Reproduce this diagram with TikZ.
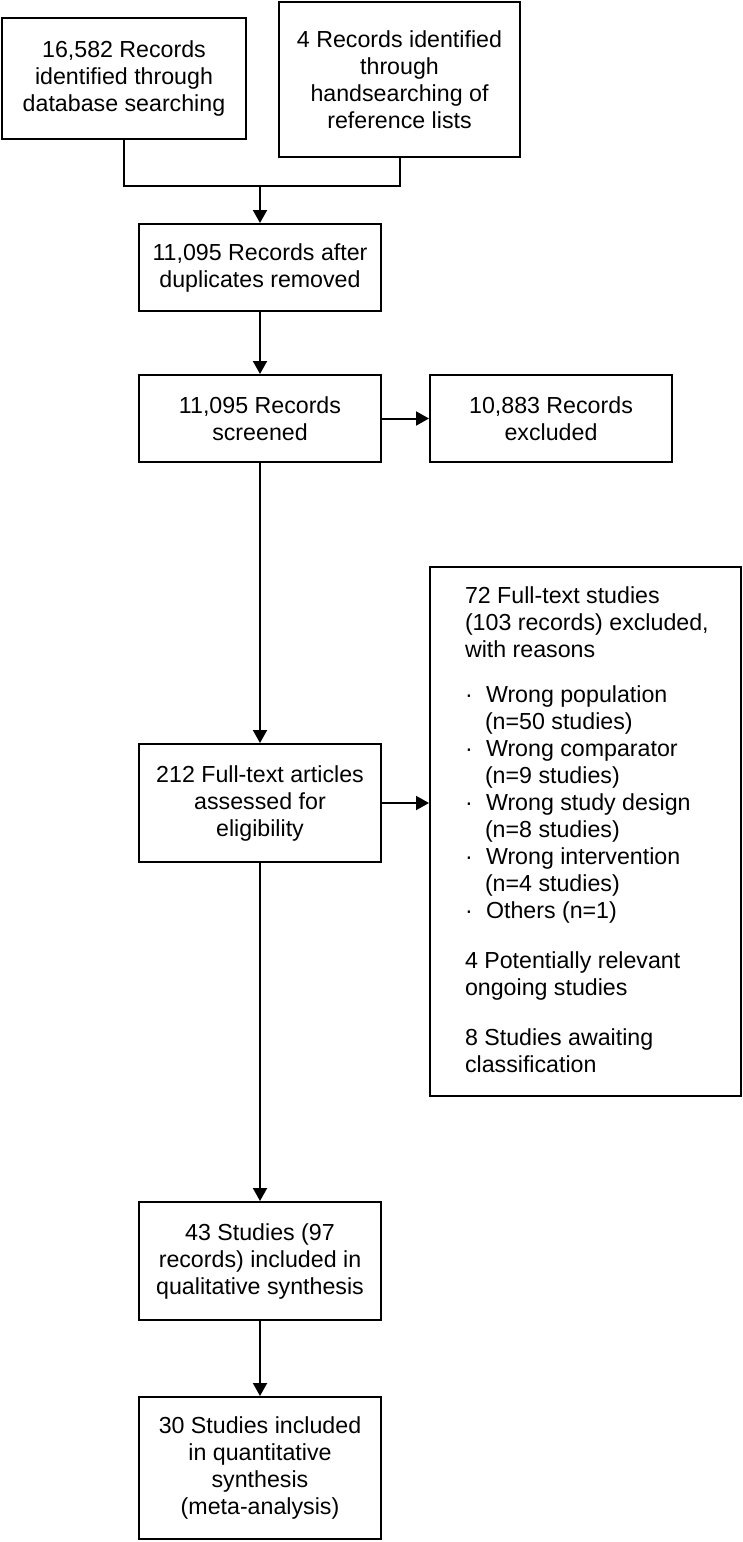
\documentclass[tikz,border=0pt]{standalone}
\usepackage{fontspec}
\setmainfont{Liberation Sans}
\usetikzlibrary{arrows.meta}
\tikzset{
  box/.style={draw=black, line width=1pt, align=center, inner sep=0pt,
    font=\fontsize{11.6pt}{13.5pt}\selectfont},
  conn/.style={draw=black, line width=1pt},
  arr/.style={conn, -{Triangle[length=6.5pt,width=7pt]}}
}
\begin{document}
\begin{tikzpicture}[x=0.5pt,y=-0.5pt]
\useasboundingbox (0,0) rectangle (743,1542);
\node[box, minimum width=122pt, minimum height=60.5pt] (A) at (124,78.5)
  {16,582 Records\\identified through\\database searching};
\node[box, minimum width=120.5pt, minimum height=77.5pt] (B) at (399.5,79.5)
  {4 Records identified\\through\\handsearching of\\reference lists};
\node[box, minimum width=121pt, minimum height=43.5pt] (C) at (260,267.5)
  {11,095 Records after\\duplicates removed};
\node[box, minimum width=121pt, minimum height=43.5pt] (D) at (260,418.5)
  {11,095 Records\\screened};
\node[box, minimum width=121pt, minimum height=43.5pt] (E) at (551,418.5)
  {10,883 Records\\excluded};
\node[box, minimum width=121pt, minimum height=59pt] (F) at (260,803)
  {212 Full-text articles\\assessed for\\eligibility};
\node[box, minimum width=155.5pt, minimum height=264.5pt] (G) at (585.5,831.5) {};
\node[box, align=left, draw=none, anchor=north west] (Gt) at (464,586)
  {72 Full-text studies\\(103 records) excluded,\\with reasons\\[9pt]
   \makebox[10.5pt][l]{\textperiodcentered}Wrong population\\
   \hspace*{10pt}(n=50 studies)\\
   \makebox[10.5pt][l]{\textperiodcentered}Wrong comparator\\
   \hspace*{10pt}(n=9 studies)\\
   \makebox[10.5pt][l]{\textperiodcentered}Wrong study design\\
   \hspace*{10pt}(n=8 studies)\\
   \makebox[10.5pt][l]{\textperiodcentered}Wrong intervention\\
   \hspace*{10pt}(n=4 studies)\\
   \makebox[10.5pt][l]{\textperiodcentered}Others (n=1)\\[11.5pt]
   4 Potentially relevant\\ongoing studies\\[11.5pt]
   8 Studies awaiting\\classification};
\node[box, minimum width=121pt, minimum height=59pt] (H) at (260,1261)
  {43 Studies (97\\records) included in\\qualitative synthesis};
\node[box, minimum width=121pt, minimum height=71pt] (I) at (260,1468)
  {30 Studies included\\in quantitative\\synthesis\\(meta-analysis)};
\coordinate (J) at (260,186);
\draw[conn] (A.south) |- (J) -| (B.south);
\draw[arr] (J) -- (C.north);
\draw[arr] (C) -- (D);
\draw[arr] (D) -- (E);
\draw[arr] (D) -- (F);
\draw[arr] (F) -- (G.west |- F.east);
\draw[arr] (F) -- (H);
\draw[arr] (H) -- (I);
\end{tikzpicture}
\end{document}
